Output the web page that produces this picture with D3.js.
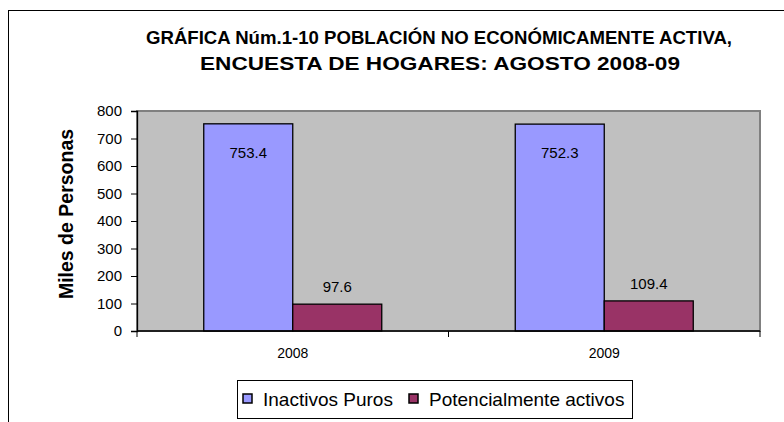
<!DOCTYPE html>
<html>
<head>
<meta charset="utf-8">
<script src="https://cdn.jsdelivr.net/npm/d3@7"></script>
<style>
body { margin:0; background:#fff; }
svg text { font-family: Arial, "Liberation Sans", sans-serif; }
</style>
</head>
<body>
<script>
// chart data
var years = ["2008", "2009"];
var seriesNames = ["Inactivos Puros", "Potencialmente activos"];
var inactivos = [753.4, 752.3];
var potenciales = [97.6, 109.4];
var yTicks = [0, 100, 200, 300, 400, 500, 600, 700, 800];
var colors = ["#9999FF", "#993366"];

var width = 784, height = 422;
var plot = {left: 137, right: 760, top: 111, bottom: 331};

var svg = d3.select("body").append("svg")
.attr("width", width)
.attr("height", height);

// outer chart border (runs off the right/bottom like the source)
svg.append("rect")
.attr("x", 8.5).attr("y", 10.5)
.attr("width", 800).attr("height", 440)
.attr("fill", "#fff")
.attr("stroke", "#000")
.attr("stroke-width", 1);

// title, condensed to the source width
var title = svg.append("g").attr("font-weight", "bold").attr("font-size", 18).attr("text-anchor", "middle");
title.append("text").attr("x", 439).attr("y", 44)
.attr("textLength", 586).attr("lengthAdjust", "spacingAndGlyphs")
.text("GRÁFICA Núm.1-10 POBLACIÓN NO ECONÓMICAMENTE ACTIVA,");
title.append("text").attr("x", 440).attr("y", 70)
.attr("textLength", 480).attr("lengthAdjust", "spacingAndGlyphs")
.text("ENCUESTA DE HOGARES: AGOSTO 2008-09");

var x0 = d3.scaleBand().domain(years).range([plot.left, plot.right]);
var x1 = d3.scaleBand().domain(seriesNames).range([0, 178]);
var y = d3.scaleLinear().domain([0, 800]).range([plot.bottom, plot.top]);

// plot background
svg.append("rect")
.attr("x", plot.left).attr("y", plot.top)
.attr("width", plot.right - plot.left).attr("height", plot.bottom - plot.top)
.attr("fill", "#C0C0C0")
.attr("stroke", "#808080")
.attr("stroke-width", 2);

// bars
var data = years.map(function(yr, i) {
	return {year: yr, values: [inactivos[i], potenciales[i]]};
});
var groups = svg.selectAll("g.year")
.data(data).enter().append("g")
.attr("class", "year")
.attr("transform", function(d) {
	return "translate(" + (x0(d.year) + (x0.bandwidth() - 178) / 2) + ",0)";
});
groups.selectAll("rect")
.data(function(d) { return d.values.map(function(v, j) { return {name: seriesNames[j], value: v, j: j}; }); })
.enter().append("rect")
.attr("x", function(d) { return x1(d.name); })
.attr("y", function(d) { return y(d.value); })
.attr("width", x1.bandwidth())
.attr("height", function(d) { return y(0) - y(d.value); })
.attr("fill", function(d) { return colors[d.j]; })
.attr("stroke", "#000")
.attr("stroke-width", 1.3);
// value labels: inside the tall bars, above the short ones
groups.selectAll("text")
.data(function(d) { return d.values.map(function(v, j) { return {name: seriesNames[j], value: v, j: j}; }); })
.enter().append("text")
.attr("x", function(d) { return x1(d.name) + x1.bandwidth() / 2; })
.attr("y", function(d) { return d.j === 0 ? y(d.value) + 34 : y(d.value) - 12; })
.attr("text-anchor", "middle")
.attr("font-size", 15)
.text(function(d) { return d.value.toFixed(1); });

// y axis
var yAxis = svg.append("g")
.attr("transform", "translate(" + plot.left + ",0)")
.call(d3.axisLeft(y).tickValues(yTicks).tickSize(6).tickPadding(9));
yAxis.select(".domain").attr("stroke", "#000").attr("stroke-width", 1.3);
yAxis.selectAll("text").attr("font-size", 15).attr("fill", "#000").attr("font-family", "Arial, 'Liberation Sans', sans-serif");

// x axis
var xAxis = svg.append("g")
.attr("transform", "translate(0," + plot.bottom + ")");
xAxis.append("line")
.attr("x1", plot.left).attr("x2", plot.right)
.attr("stroke", "#000").attr("stroke-width", 1.3);
xAxis.selectAll("line.tick")
.data([plot.left, plot.left + x0.bandwidth(), plot.right]).enter().append("line")
.attr("class", "tick")
.attr("x1", function(d) { return d; }).attr("x2", function(d) { return d; })
.attr("y1", 0).attr("y2", 6)
.attr("stroke", "#000");
xAxis.selectAll("text")
.data(years).enter().append("text")
.attr("x", function(d) { return x0(d) + x0.bandwidth() / 2; })
.attr("y", 27)
.attr("text-anchor", "middle")
.attr("font-size", 14)
.text(function(d) { return d; });

// y axis title
svg.append("text")
.attr("transform", "translate(73,214) rotate(-90)")
.attr("text-anchor", "middle")
.attr("font-weight", "bold")
.attr("font-size", 19.5)
.text("Miles de Personas");

// legend
var legend = svg.append("g").attr("transform", "translate(237,380)");
legend.append("rect")
.attr("x", 0.5).attr("y", 0.5)
.attr("width", 395).attr("height", 38)
.attr("fill", "#fff").attr("stroke", "#000");
var lx = [6, 172];
seriesNames.forEach(function(name, i) {
	legend.append("rect")
	.attr("x", lx[i]).attr("y", 14)
	.attr("width", 9).attr("height", 9)
	.attr("fill", colors[i]).attr("stroke", "#000").attr("stroke-width", 1.5);
	legend.append("text")
	.attr("x", lx[i] + 20).attr("y", 26)
	.attr("font-size", 19)
	.text(name);
});
</script>
</body>
</html>
